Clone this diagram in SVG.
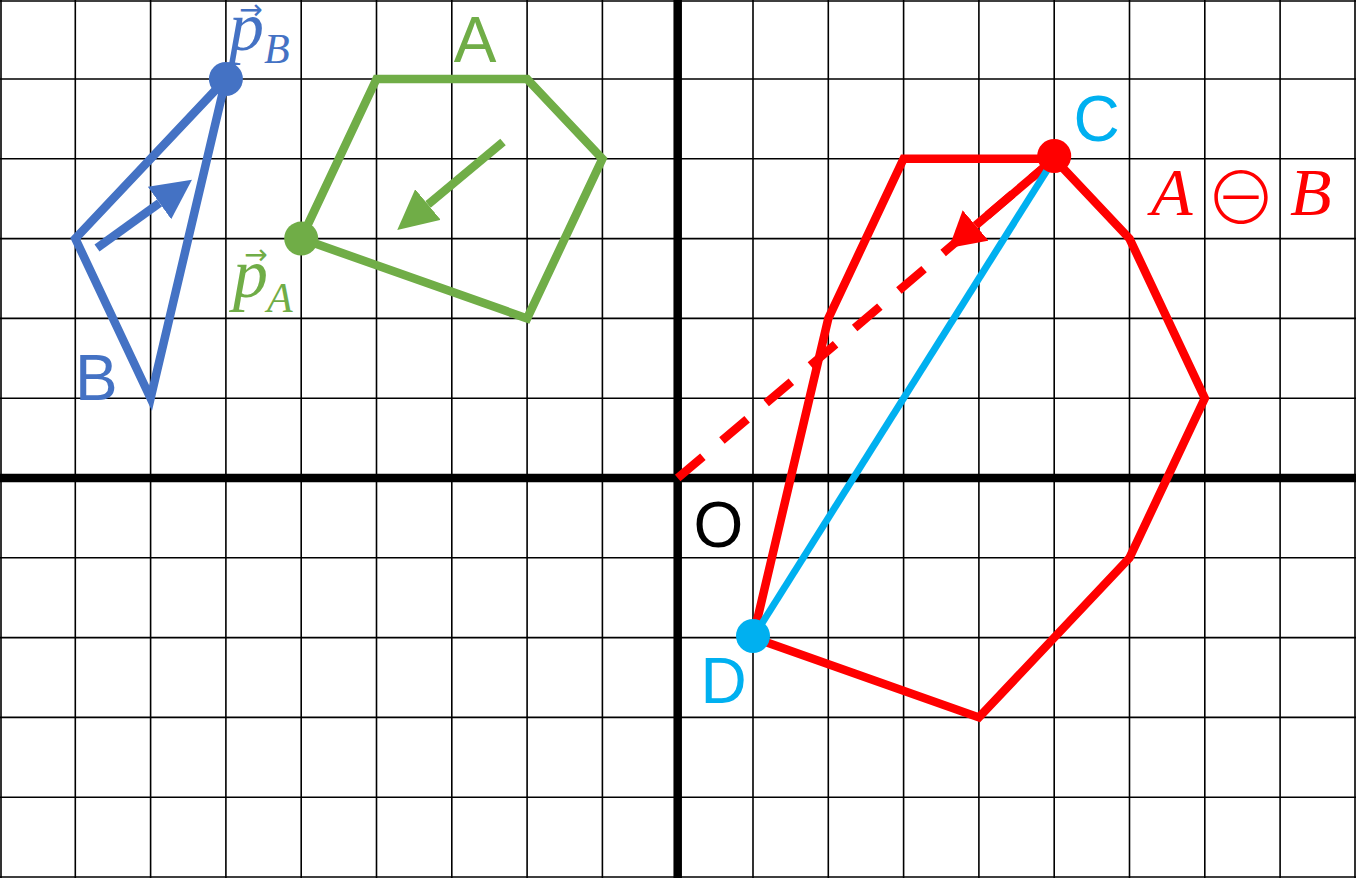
<svg xmlns="http://www.w3.org/2000/svg" width="1356" height="878" viewBox="0 0 1356 878">
<style>
.grid{stroke:#000;stroke-width:1.6;fill:none}
.axis{stroke:#000;stroke-width:8.5;fill:none}
.shape{fill:none;stroke-width:8.5;stroke-linejoin:miter;stroke-miterlimit:4}
.blue{stroke:#4472C4}
.green{stroke:#70AD47}
.red{stroke:#FF0000}
.lbl{font-family:"Liberation Sans",Arial,sans-serif;font-size:64px}
.math{font-family:"Liberation Serif","Times New Roman",serif;font-style:italic}
.acc{font-family:"DejaVu Sans",sans-serif;font-size:28px;text-anchor:middle}
</style>
<defs>
<marker id="ahBlue" markerUnits="userSpaceOnUse" viewBox="0 0 40 40" markerWidth="40" markerHeight="40" refX="0" refY="20" orient="auto"><path d="M0,0 L40,20 L0,40 z" fill="#4472C4"/></marker>
<marker id="ahGreen" markerUnits="userSpaceOnUse" viewBox="0 0 40 40" markerWidth="40" markerHeight="40" refX="0" refY="20" orient="auto"><path d="M0,0 L40,20 L0,40 z" fill="#70AD47"/></marker>
<marker id="ahRed" markerUnits="userSpaceOnUse" viewBox="0 0 35 40" markerWidth="35" markerHeight="40" refX="0" refY="20" orient="auto"><path d="M0,0 L35,20 L0,40 z" fill="#FF0000"/></marker>
</defs>
<rect x="0" y="0" width="1356" height="878" fill="#fff"/>
<g id="grid" class="grid">
<path d="M1,0V878 M75.3,0V878 M150.6,0V878 M225.9,0V878 M301.2,0V878 M376.5,0V878 M451.8,0V878 M527.1,0V878 M602.4,0V878 M753,0V878 M828.3,0V878 M903.6,0V878 M978.9,0V878 M1054.2,0V878 M1129.5,0V878 M1204.8,0V878 M1280.1,0V878 M1355,0V878"/>
<path d="M0,1H1356 M0,79H1356 M0,158.8H1356 M0,238.6H1356 M0,318.4H1356 M0,398.2H1356 M0,557.8H1356 M0,637.6H1356 M0,717.4H1356 M0,797.2H1356 M0,877H1356"/>
</g>
<g id="axes" class="axis">
<path d="M0,478H1356"/>
<path d="M677.7,0V878"/>
</g>
<g id="shapeB">
<polygon class="shape blue" points="225.9,79 75.3,238.6 150.6,398.2"/>
<circle cx="225.9" cy="79" r="17" fill="#4472C4"/>
<text class="lbl" x="75" y="400" fill="#4472C4">B</text>
</g>
<g id="shapeA">
<polygon class="shape green" points="301.2,238.6 376.5,79 527.1,79 602.4,158.8 527.1,318.4"/>
<circle cx="301.2" cy="238.6" r="17" fill="#70AD47"/>
<text class="lbl" x="475" y="62" fill="#70AD47" text-anchor="middle">A</text>
</g>
<g id="labelPB" fill="#4472C4">
<text class="acc" x="251" y="19">→</text>
<text class="math" x="229" y="50" font-size="70">p</text>
<text class="math" x="264" y="63" font-size="42">B</text>
</g>
<g id="labelPA" fill="#70AD47">
<text class="acc" x="256" y="264">→</text>
<text class="math" x="233" y="297" font-size="70">p</text>
<text class="math" x="267" y="312" font-size="42">A</text>
</g>
<g id="minkowski">
<polygon class="shape red" points="903.6,158.8 1054.2,158.8 1129.5,238.6 1204.8,398.2 1129.5,557.8 978.9,717.4 753,637.6 828.3,318.4"/>
<text class="math" x="1151" y="215" font-size="68" fill="#FF0000">A</text>
<text x="1241" y="224" font-size="72" font-weight="300" fill="#FF0000" text-anchor="middle" font-family="Noto Sans CJK JP, DejaVu Sans, sans-serif">⊖</text>
<text class="math" x="1290" y="215" font-size="68" fill="#FF0000">B</text>
</g>
<g id="connectors">
<line class="shape blue" x1="97" y1="248" x2="159.5" y2="203" marker-end="url(#ahBlue)"/>
<line class="shape green" x1="503" y1="142" x2="428" y2="204.5" marker-end="url(#ahGreen)"/>
<line class="shape red" x1="677.7" y1="478" x2="1054.2" y2="158.8" stroke-dasharray="33 25"/>
<line class="shape red" x1="1054.2" y1="158.8" x2="975.6" y2="225.4" marker-end="url(#ahRed)"/>
<line x1="1054.2" y1="158.8" x2="753" y2="637.6" stroke="#00B0F0" stroke-width="7"/>
</g>
<g id="pointC">
<circle cx="1054.2" cy="156" r="17" fill="#FF0000"/>
<text class="lbl" x="1096.5" y="141" fill="#00B0F0" text-anchor="middle">C</text>
</g>
<g id="pointD">
<circle cx="753" cy="636" r="17" fill="#00B0F0"/>
<text class="lbl" x="723.5" y="703" fill="#00B0F0" text-anchor="middle">D</text>
</g>
<g id="origin">
<text class="lbl" x="718.5" y="547" fill="#000" text-anchor="middle">O</text>
</g>
</svg>
